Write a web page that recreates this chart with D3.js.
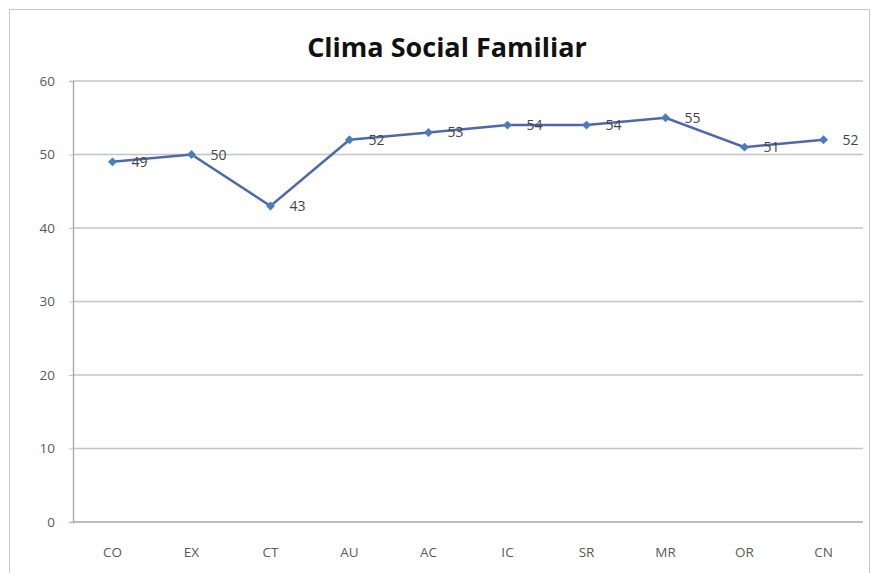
<!DOCTYPE html>
<html>
<head>
<meta charset="utf-8">
<script src="https://cdn.jsdelivr.net/npm/d3@7"></script>
<style>
  body { margin: 0; background: #fff; }
  text { font-family: "Open Sans", "DejaVu Sans", sans-serif; }
</style>
</head>
<body>
<div id="chart"></div>
<script>
var categories = ["CO", "EX", "CT", "AU", "AC", "IC", "SR", "MR", "OR", "CN"];
var values = [49, 50, 43, 52, 53, 54, 54, 55, 51, 52];
var yTicks = [0, 10, 20, 30, 40, 50, 60];

var width = 872, height = 573;
var margin = {top: 81, right: 9, bottom: 51, left: 73};

var svg = d3.select("#chart").append("svg")
  .attr("width", width)
  .attr("height", height);

// chart frame
svg.append("rect")
  .attr("x", 9.5).attr("y", 9.5)
  .attr("width", width - 12).attr("height", height - 5)
  .attr("fill", "none")
  .attr("stroke", "#c8c8c8");

svg.append("text")
  .attr("x", 447).attr("y", 57)
  .attr("text-anchor", "middle")
  .style("font-size", "27px")
  .style("font-weight", "bold")
  .style("fill", "#111")
  .text("Clima Social Familiar");

var x = d3.scaleBand()
  .domain(categories)
  .range([margin.left, width - margin.right]);

var y = d3.scaleLinear()
  .domain([0, 60])
  .range([height - margin.bottom, margin.top]);

// gridlines
svg.append("g")
  .selectAll("line")
  .data(yTicks)
  .enter().append("line")
  .attr("x1", margin.left).attr("x2", width - margin.right)
  .attr("y1", d => y(d)).attr("y2", d => y(d))
  .attr("stroke", d => d === 0 ? "#a6a6a6" : "#c4c4c4")
  .attr("stroke-width", 1.3);

var yAxis = svg.append("g")
  .attr("transform", "translate(" + margin.left + ",0)")
  .call(d3.axisLeft(y).tickValues(yTicks).tickSize(4).tickPadding(14));
yAxis.select(".domain").attr("stroke", "#a6a6a6").attr("stroke-width", 1.3);
yAxis.selectAll(".tick line").attr("stroke", "#c4c4c4");
yAxis.selectAll("text").style("font-size", "13.5px").style("fill", "#595959");

var xAxis = svg.append("g")
  .attr("transform", "translate(0," + y(0) + ")")
  .call(d3.axisBottom(x).tickSize(0).tickPadding(25));
xAxis.select(".domain").remove();
xAxis.selectAll("text").style("font-size", "13.5px").style("fill", "#595959");

var line = d3.line()
  .x((d, i) => x(categories[i]) + x.bandwidth() / 2)
  .y(d => y(d));

svg.append("path")
  .datum(values)
  .attr("d", line)
  .attr("fill", "none")
  .attr("stroke", "#5068a8")
  .attr("stroke-width", 2.5);

svg.append("g")
  .selectAll("path")
  .data(values)
  .enter().append("path")
  .attr("d", d3.symbol().type(d3.symbolSquare).size(40))
  .attr("transform", (d, i) => "translate(" + (x(categories[i]) + x.bandwidth() / 2) + "," + y(d) + ") rotate(45)")
  .attr("fill", "#4a7ebb");

svg.append("g")
  .selectAll("text")
  .data(values)
  .enter().append("text")
  .attr("x", (d, i) => x(categories[i]) + x.bandwidth() / 2 + 19)
  .attr("y", d => y(d) + 5)
  .style("font-size", "14px")
  .style("fill", "#444")
  .text(d => d);
</script>
</body>
</html>
